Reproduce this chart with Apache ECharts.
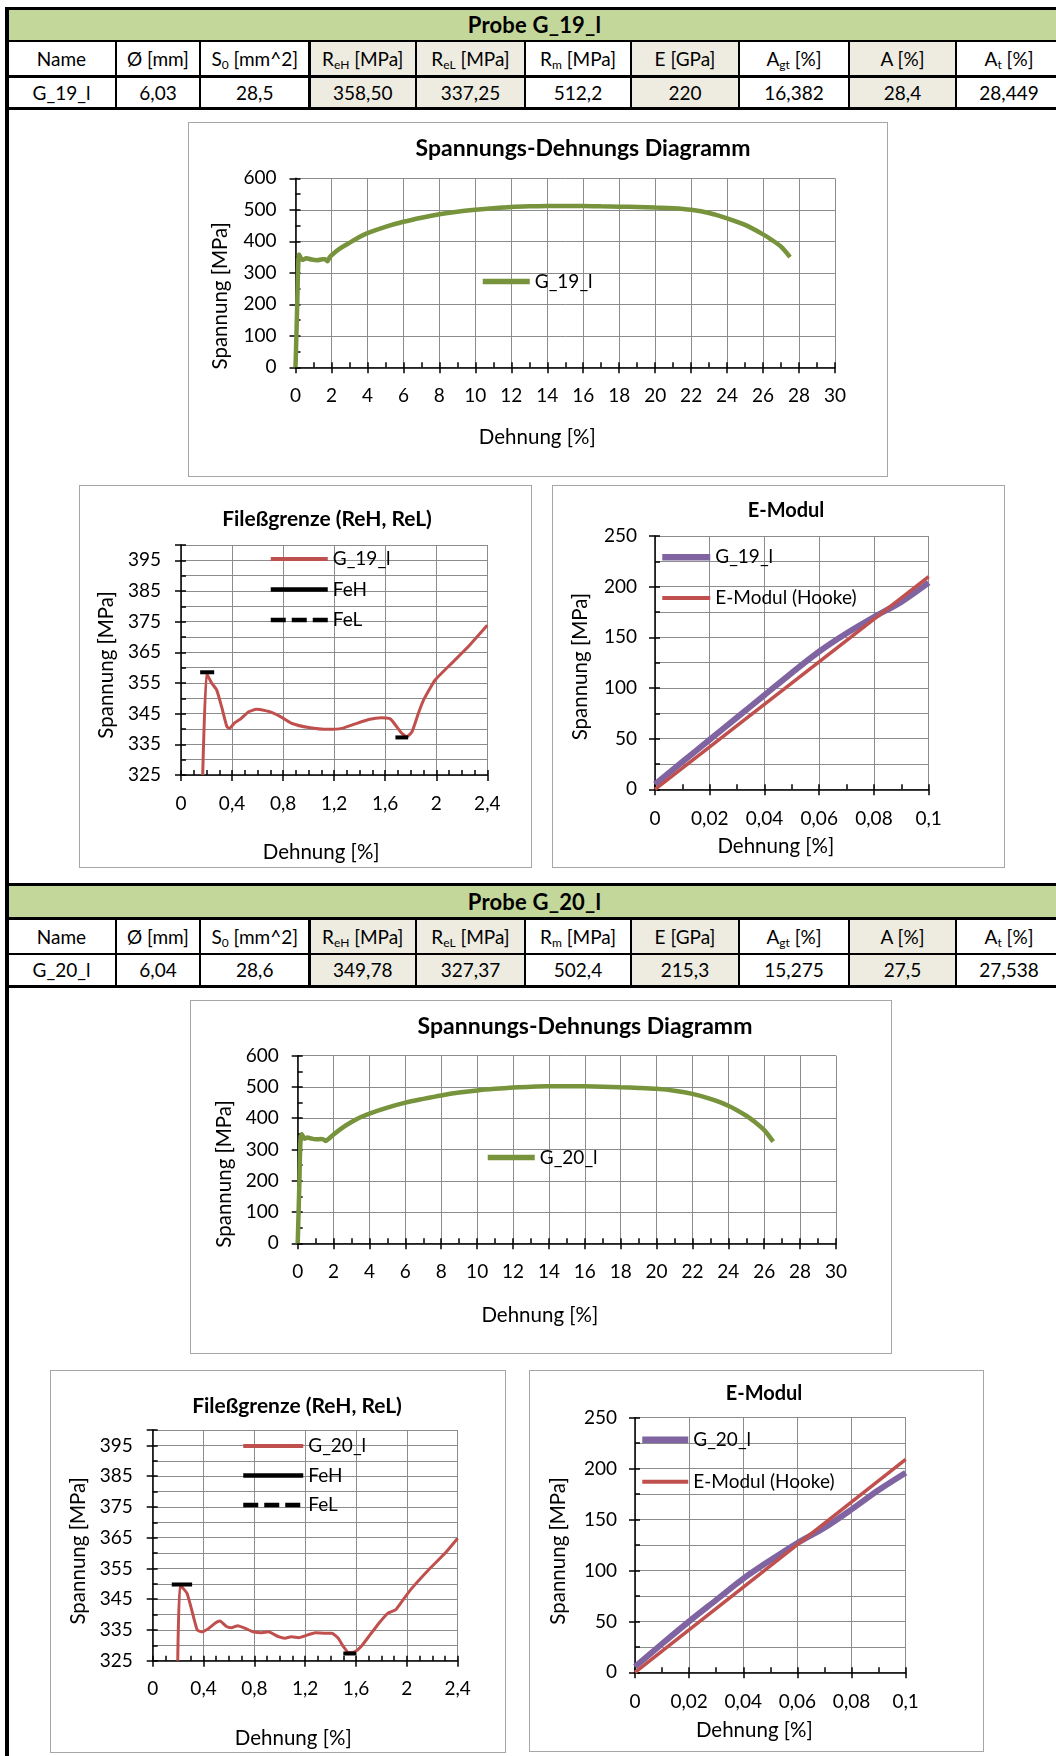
<!DOCTYPE html>
<html lang="de">
<head>
<meta charset="utf-8">
<title>Probe G_19_l / G_20_l</title>
<script src="https://cdn.jsdelivr.net/npm/echarts@6.0.0/dist/echarts.min.js"></script>
<style>
html,body{margin:0;padding:0;background:#fff;}
body{position:relative;width:1056px;height:1756px;overflow:hidden;font-family:Lato,"Open Sans",sans-serif;color:#000;}
.ln{position:absolute;background:#000;}
.cell{position:absolute;display:flex;align-items:center;justify-content:center;white-space:nowrap;font-size:19px;}
.cell sub{font-size:12px;line-height:1;position:relative;top:3px;vertical-align:baseline;}
.hdr{background:#c4d79b;font-weight:700;font-size:22px;letter-spacing:0.2px;}
.beige{background:#eeece1;}
.box{position:absolute;box-sizing:border-box;border:1.5px solid #a6a6a6;background:#fff;}
.chart{position:absolute;}
</style>
</head>
<body>
<script>
// ================= DATA =================
const g19Title = 'Probe G_19_l';
const g20Title = 'Probe G_20_l';
const tableHeaders = ['Name', 'Ø [mm]', 'S<sub>0</sub> [mm^2]', 'R<sub>eH</sub> [MPa]', 'R<sub>eL</sub> [MPa]',
  'R<sub>m</sub> [MPa]', 'E [GPa]', 'A<sub>gt</sub> [%]', 'A [%]', 'A<sub>t</sub> [%]'];
const g19Row = ['G_19_l', '6,03', '28,5', '358,50', '337,25', '512,2', '220', '16,382', '28,4', '28,449'];
const g20Row = ['G_20_l', '6,04', '28,6', '349,78', '327,37', '502,4', '215,3', '15,275', '27,5', '27,538'];

// Spannungs-Dehnungs Diagramm (strain %, stress MPa)
const g19MainStrain = [0, 0.05, 0.1, 0.15, 0.2, 0.3, 0.4, 0.6, 0.9, 1.2, 1.5, 1.65, 1.77, 1.9, 2, 2.5, 3, 3.5, 4, 5,
  6, 7, 8, 9, 10, 11, 12, 13, 14, 15, 16, 17, 18, 19, 20, 21, 22, 23, 24, 25, 26, 26.5, 27, 27.5];
const g19MainStress = [0, 100, 210, 320, 358, 346, 341, 346, 342, 340, 343, 343, 337, 349, 356, 378, 395, 412, 426, 446,
  462, 475, 486, 494, 500, 505, 509, 511, 512, 512.2, 512, 511, 510, 509, 507, 505, 500, 490, 473, 452, 422, 404, 383, 350];
const g20MainStrain = [0, 0.05, 0.1, 0.15, 0.22, 0.3, 0.38, 0.53, 0.7, 1.0, 1.3, 1.45, 1.55, 1.7, 2, 2.5, 3, 3.5, 4, 5,
  6, 7, 8, 9, 10, 11, 12, 13, 14, 15, 16, 17, 18, 19, 20, 21, 22, 23, 24, 25, 25.5, 26, 26.5];
const g20MainStress = [0, 100, 210, 320, 349.6, 341, 334.5, 338, 336, 332.5, 333.5, 332, 327.5, 333, 348, 370, 388, 403, 415, 434,
  450, 462, 473, 482, 489, 494, 498, 501, 502, 502.4, 502, 501, 499, 497, 494, 488, 478, 462, 440, 408, 387, 362, 325];

// Fließgrenze (ReH, ReL)
const g19YieldStrain = [0.17, 0.2, 0.24, 0.28, 0.32, 0.36, 0.38, 0.42, 0.47, 0.53, 0.59, 0.66, 0.71, 0.79, 0.87, 1.0,
  1.15, 1.26, 1.36, 1.47, 1.57, 1.64, 1.68, 1.73, 1.77, 1.81, 1.86, 1.9, 1.99, 2.12, 2.25, 2.4];
const g19YieldStress = [325, 358.1, 355, 352.7, 347, 340.7, 340.2, 342, 343.4, 345.6, 346.4, 346, 345.4, 343.8, 341.8, 340.5,
  339.9, 340.2, 341.6, 343.1, 343.7, 343.3, 341.3, 338.6, 337.5, 339.1, 345.1, 349.4, 355.9, 361.4, 366.8, 373.8];
const g20YieldStrain = [0.197, 0.215, 0.27, 0.31, 0.35, 0.385, 0.44, 0.49, 0.53, 0.58, 0.62, 0.67, 0.73, 0.79, 0.86, 0.91,
  0.99, 1.04, 1.09, 1.15, 1.22, 1.28, 1.36, 1.41, 1.46, 1.5, 1.54, 1.59, 1.64, 1.71, 1.78, 1.85, 1.91, 1.97, 2.04, 2.17, 2.3, 2.4];
const g20YieldStress = [325, 349.6, 346.9, 341, 335, 334.4, 335.5, 337.2, 337.9, 336.1, 335.7, 336.4, 335.5, 334.4, 334.1, 334.4,
  332.8, 332.3, 332.8, 332.5, 333.4, 334.1, 333.9, 333.9, 332.3, 329.6, 327.7, 327.9, 329.6, 333.4, 337.2, 340.4, 341.5, 344.8, 348.6, 354.5, 359.9, 364.8];
const g19FeHStrain = [0.15, 0.26];
const g19FeHStress = [358.5, 358.5];
const g19FeLStrain = [1.68, 1.78];
const g19FeLStress = [337.25, 337.25];
const g20FeHStrain = [0.15, 0.31];
const g20FeHStress = [349.78, 349.78];
const g20FeLStrain = [1.5, 1.6];
const g20FeLStress = [327.37, 327.37];

// E-Modul
const elasticStrain = [0, 0.01, 0.02, 0.03, 0.04, 0.05, 0.06, 0.07, 0.08, 0.09, 0.1];
const g19ElasticStress = [5, 27, 49, 71, 93, 115, 136, 154, 170, 185, 204];
const g20ElasticStress = [5.5, 28, 50, 71, 92, 110, 127, 142, 160, 179, 196];
const hookeStrain = [0, 0.1];
const g19HookeStress = [0, 210];
const g20HookeStress = [0, 209];

// axis ranges [min, max, major step, minor step]
const mainXRange = [0, 30, 2, 1];
const mainYRange = [0, 600, 100, 50];
const yieldXRange = [0, 2.4, 0.4, 0.1];
const yieldYRange = [325, 400, 10, 5];
const eXRange = [0, 0.1, 0.02, 0.01];
const eYRange = [0, 250, 50, 25];

// ================= LAYOUT =================
const colEdges = [7, 116, 200, 309.5, 416, 525, 631, 739, 849, 956, 1062];
const beigeCols = [3, 4, 6, 8];

function addEl(cls, l, t, w, h, html) {
  const d = document.createElement('div');
  d.className = cls;
  d.style.left = l + 'px'; d.style.top = t + 'px';
  d.style.width = w + 'px'; d.style.height = h + 'px';
  if (html != null) d.innerHTML = '<span>' + html + '</span>';
  document.body.appendChild(d);
  return d;
}

function buildSection(hLines, title, row) {
  const [L0, L1, L2, L3] = hLines;
  const x0 = colEdges[0], x1 = colEdges[colEdges.length - 1];
  addEl('cell hdr', x0, L0[0] + L0[1], x1 - x0, L1[0] - (L0[0] + L0[1]), title);
  const bands = [[L1[0] + L1[1], L2[0]], [L2[0] + L2[1], L3[0]]];
  [tableHeaders, row].forEach((vals, r) => {
    const [ya, yb] = bands[r];
    vals.forEach((v, i) => {
      addEl('cell' + (beigeCols.includes(i) ? ' beige' : ''), colEdges[i], ya, colEdges[i + 1] - colEdges[i], yb - ya, v);
    });
  });
  hLines.forEach(([t, h]) => addEl('ln', x0 - 2, t, x1 - x0 + 2, h));
  for (let i = 1; i < colEdges.length - 1; i++) {
    addEl('ln', colEdges[i] - 1.25, L1[0], 2.5, L3[0] + L3[1] - L1[0]);
  }
}

buildSection([[7, 3], [39.5, 2.5], [75, 2.5], [107, 3]], g19Title, g19Row);
buildSection([[882.5, 3], [916.5, 3], [952.5, 2.5], [984.5, 3]], g20Title, g20Row);
addEl('ln', 5, 7, 4, 1760);

// ================= CHARTS =================
const FONT = 'Lato, "Open Sans", sans-serif';
const GRID_COLOR = '#8c8c8c';
const tickLine = { color: '#000', width: 1.5 };
const GREEN = '#77933c', RED = '#c0504d', PURPLE = '#8064a2';
const FEL_DASH = [15, 6];

function commaFmt(v) { return String(+(+v).toFixed(4)).replace('.', ','); }
function yieldYFmt(v) {
  const r = Math.round(v);
  return (r < 400 && (r - 325) % 10 === 0) ? String(r) : '';
}
function pts(xs, ys) { return xs.map((x, i) => [x, ys[i]]); }

function mainAxis(dim, range, o) {
  return {
    type: 'value', min: range[0], max: range[1], interval: range[2],
    position: dim === 'x' ? 'bottom' : 'left',
    axisLine: { show: true, onZero: false, lineStyle: { color: '#000', width: 1.5 } },
    axisTick: { show: true, inside: false, length: 6, lineStyle: tickLine },
    minorTick: { show: false },
    axisLabel: { show: true, margin: o.margin, formatter: o.fmt || commaFmt, fontFamily: FONT, fontSize: 19, color: '#000' },
    splitLine: { show: o.split !== false, lineStyle: { color: GRID_COLOR, width: 1 } },
    name: o.name, nameLocation: 'middle', nameGap: o.nameGap, nameMoveOverlap: false,
    nameTextStyle: { fontFamily: FONT, fontSize: 20.5, color: '#000', padding: [0, o.pad || 0, 0, 0] }
  };
}
function minorAxis(dim, range, split) {
  return {
    type: 'value', min: range[0], max: range[1], interval: range[3],
    position: dim === 'x' ? 'bottom' : 'left',
    axisLine: { show: false, onZero: false },
    axisTick: { show: true, inside: true, length: 5, lineStyle: tickLine },
    axisLabel: { show: false },
    splitLine: { show: !!split, lineStyle: { color: GRID_COLOR, width: 1 } }
  };
}
function lineSeries(name, xs, ys, color, width, extra) {
  return Object.assign({
    name, type: 'line', data: pts(xs, ys), showSymbol: false, symbol: 'none',
    smooth: 0.3, clip: true, xAxisIndex: 0, yAxisIndex: 0,
    lineStyle: { color, width }, itemStyle: { color }, emphasis: { disabled: true }, z: 3
  }, extra || {});
}
// items: [[name, color, width, type]]
function legend(items, left, top, itemWidth, itemGap) {
  return {
    show: true, orient: 'vertical', left, top, itemWidth, itemHeight: 14, itemGap, padding: 0,
    data: items.map(([name, color, width, type]) => ({
      name, itemStyle: { opacity: 0, borderWidth: 0 },
      lineStyle: { color, width, type: type || 'solid', opacity: 1, cap: 'butt' }
    })),
    selectedMode: false,
    textStyle: { fontFamily: FONT, fontSize: 19, color: '#000' },
    itemStyle: { opacity: 0, borderWidth: 0 }
  };
}
function title(text, left, top, size) {
  return { text, left, top, textAlign: 'center', padding: 0,
    textStyle: { fontFamily: FONT, fontSize: size, fontWeight: 'bold', color: '#000' } };
}
function makeChart(box, option) {
  addEl('box', box[0], box[1], box[2], box[3]);
  const d = addEl('chart', box[0], box[1], box[2], box[3]);
  if (typeof echarts === 'undefined') return;
  const c = echarts.init(d, null, { renderer: 'canvas', width: box[2], height: box[3] });
  c.setOption(Object.assign({ animation: false, backgroundColor: 'transparent' }, option));
}

function mainOption(tPos, leg, grid, xs, ys, name, xNameGap, xPad, yNameGap, yPad) {
  return {
    title: title('Spannungs-Dehnungs Diagramm', tPos[0], tPos[1], 23),
    legend: legend([[name, GREEN, 5.5]], leg[0], leg[1], leg[2], 10),
    grid: Object.assign({ outerBoundsMode: 'none', containLabel: false }, grid),
    xAxis: [mainAxis('x', mainXRange, { margin: 19, name: 'Dehnung [%]', nameGap: xNameGap, pad: xPad }),
            minorAxis('x', mainXRange, false)],
    yAxis: [mainAxis('y', mainYRange, { margin: 19, name: 'Spannung [MPa]', nameGap: yNameGap, pad: yPad }),
            minorAxis('y', mainYRange, false)],
    series: [lineSeries(name, xs, ys, GREEN, 4.5)]
  };
}
function yieldOption(tPos, leg, grid, xs, ys, name, feh, fel, xNameGap, xPad, yNameGap, yPad) {
  return {
    title: title('Fileßgrenze (ReH, ReL)', tPos[0], tPos[1], 21),
    legend: legend([[name, RED, 4], ['FeH', '#000', 4.5], ['FeL', '#000', 4.5, FEL_DASH]], leg[0], leg[1], leg[2], leg[3]),
    grid: Object.assign({ outerBoundsMode: 'none', containLabel: false }, grid),
    xAxis: [mainAxis('x', yieldXRange, { margin: 19, name: 'Dehnung [%]', nameGap: xNameGap, pad: xPad }),
            minorAxis('x', yieldXRange, false)],
    yAxis: [mainAxis('y', yieldYRange, { margin: 20, fmt: yieldYFmt, split: false, name: 'Spannung [MPa]', nameGap: yNameGap, pad: yPad }),
            minorAxis('y', yieldYRange, true)],
    series: [
      lineSeries(name, xs, ys, RED, 3, { smooth: 0.15 }),
      lineSeries('FeH', feh[0], feh[1], '#000', 4, { smooth: false, z: 4 }),
      lineSeries('FeL', fel[0], fel[1], '#000', 4, { smooth: false, z: 4, lineStyle: { color: '#000', width: 4, type: FEL_DASH } })
    ]
  };
}
function eOption(tPos, leg, grid, ys, hooke, name, xNameGap, xPad, yNameGap, yPad) {
  return {
    title: title('E-Modul', tPos[0], tPos[1], 20),
    legend: legend([[name, PURPLE, 6.5], ['E-Modul (Hooke)', RED, 4]], leg[0], leg[1], leg[2], leg[3]),
    grid: Object.assign({ outerBoundsMode: 'none', containLabel: false }, grid),
    xAxis: [mainAxis('x', eXRange, { margin: 20, name: 'Dehnung [%]', nameGap: xNameGap, pad: xPad }),
            minorAxis('x', eXRange, false)],
    yAxis: [mainAxis('y', eYRange, { margin: 18, name: 'Spannung [MPa]', nameGap: yNameGap, pad: yPad }),
            minorAxis('y', eYRange, true)],
    series: [
      lineSeries(name, elasticStrain, ys, PURPLE, 6, { smooth: 0.3 }),
      lineSeries('E-Modul (Hooke)', hookeStrain, hooke, RED, 3.5, { smooth: false, z: 4 })
    ]
  };
}

makeChart([188, 122, 700, 355],
  mainOption([395, 15], [292, 150, 47], { left: 107.5, right: 53, top: 56.3, bottom: 109.7 },
    g19MainStrain, g19MainStress, 'G_19_l', 60, 56, 65, 46));
makeChart([79, 485, 453, 383],
  yieldOption([248, 23.5], [189.5, 64.4, 57, 11.5], { left: 102, right: 44.7, top: 60, bottom: 93 },
    g19YieldStrain, g19YieldStress, 'G_19_l', [g19FeHStrain, g19FeHStress], [g19FeLStrain, g19FeLStress], 67, 26, 64, 10));
makeChart([552, 485, 453, 383],
  eOption([234, 16], [107, 62.7, 48, 21.8], { left: 103, right: 76.3, top: 51, bottom: 78.7 },
    g19ElasticStress, g19HookeStress, 'G_19_l', 47, 32, 64, 8));
makeChart([190, 1000, 702, 354],
  mainOption([395, 15], [295, 148, 47], { left: 107.7, right: 56, top: 55.7, bottom: 110.7 },
    g20MainStrain, g20MainStress, 'G_20_l', 62, 54, 63, 49));
makeChart([50, 1370, 456, 383],
  yieldOption([247, 25.5], [191, 66.4, 60, 10.5], { left: 102.7, right: 48.3, top: 60, bottom: 92.3 },
    g20YieldStrain, g20YieldStress, 'G_20_l', [g20FeHStrain, g20FeHStress], [g20FeLStrain, g20FeLStress], 67, 24, 64, 11));
makeChart([529, 1370, 455, 382],
  eOption([235, 14], [110, 60.2, 46, 23], { left: 106, right: 78.3, top: 47.7, bottom: 79.7 },
    g20ElasticStress, g20HookeStress, 'G_20_l', 48, 32, 66, 12));
</script>
</body>
</html>
